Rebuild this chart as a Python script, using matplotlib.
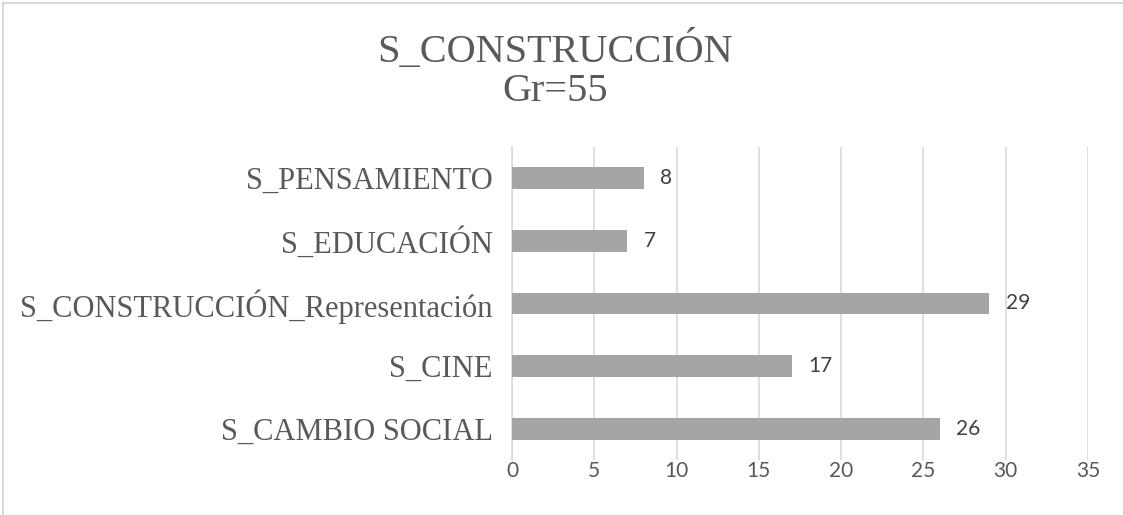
import matplotlib
matplotlib.use("Agg")
import matplotlib.pyplot as plt
from matplotlib.patches import Rectangle

# data, bottom to top as in the picture
categories = ["S_CAMBIO SOCIAL", "S_CINE", "S_CONSTRUCCIÓN_Representación",
              "S_EDUCACIÓN", "S_PENSAMIENTO"]
values = [26, 17, 29, 7, 8]
xticks = [0, 5, 10, 15, 20, 25, 30, 35]
title = "S_CONSTRUCCIÓN\nGr=55"

fig = plt.figure(figsize=(11.23, 5.15), dpi=100)
ax = fig.add_axes([0.4559, 0.1068, 0.5130, 0.6078])

# light frame around the chart area (runs off the right and bottom edges)
fig.patches.append(Rectangle((0.003, -0.05), 1.2, 1.045, transform=fig.transFigure,
                             fill=False, edgecolor="#D9D9D9", linewidth=1.5))

y = range(len(categories))
ax.barh(y, values, height=0.35, color="#A5A5A5", zorder=3)
for yi, v in zip(y, values):
    ax.text(v + 1.0, yi, str(v), va="center", ha="left", fontsize=15,
            family="Lato", color="#404040")

ax.set_xlim(0, 35)
ax.set_ylim(-0.5, len(categories) - 0.5)
ax.set_xticks(xticks)
ax.set_xticklabels([str(t) for t in xticks], family="Lato", fontsize=15, color="#595959")
ax.set_yticks(list(y))
ax.set_yticklabels(categories, family="Liberation Serif", fontsize=22, color="#595959")
ax.tick_params(axis="x", length=0, pad=1)
ax.tick_params(axis="y", length=0, pad=14)

ax.grid(axis="x", color="#D9D9D9", linewidth=1.2, zorder=0)
for s in ["top", "right", "bottom"]:
    ax.spines[s].set_visible(False)
ax.spines["left"].set_color("#D9D9D9")
ax.spines["left"].set_linewidth(1.2)

fig.text(0.494, 0.863, title, ha="center", va="center", family="Liberation Serif",
         fontsize=29, color="#595959", linespacing=1.05)

fig.savefig("out.png", dpi=100)
